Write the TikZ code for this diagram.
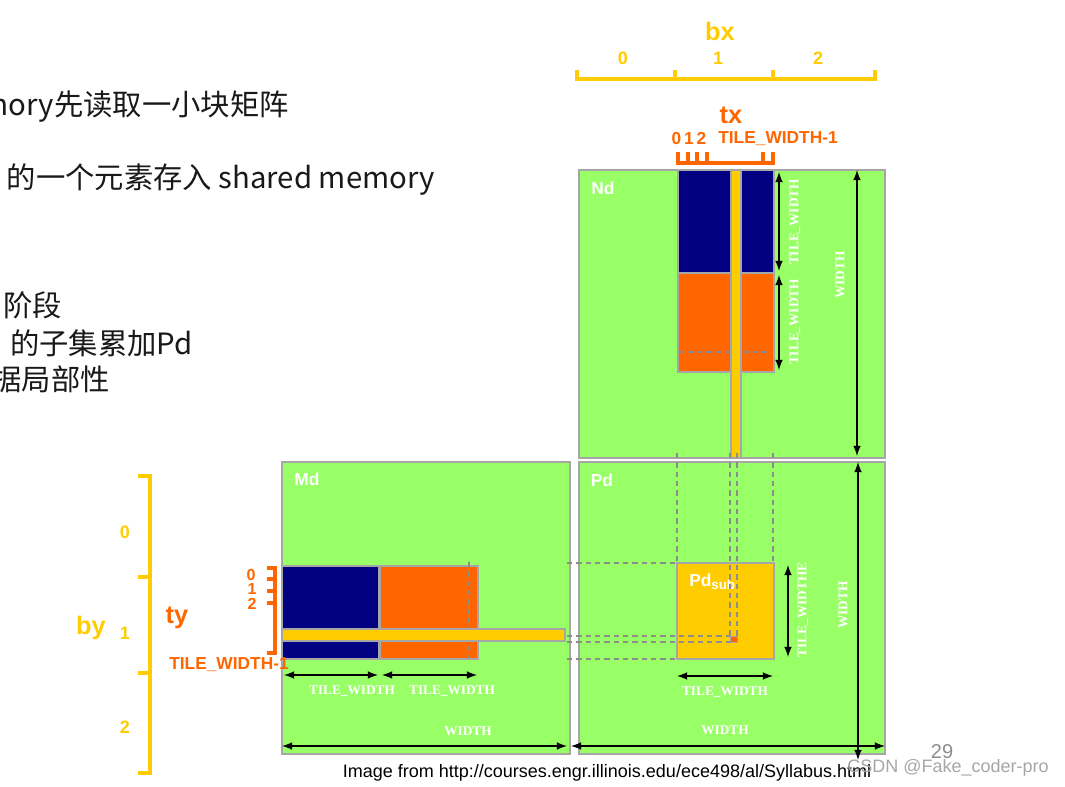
\documentclass[tikz,border=0pt]{standalone}
\usepackage{fontspec}
\setmainfont{Liberation Sans}
\newfontfamily\cjkfont{Noto Sans CJK SC}
\newfontfamily\dimfont{Liberation Serif}
\usetikzlibrary{arrows}

\definecolor{matgreen}{HTML}{99FF66}
\definecolor{tilenavy}{HTML}{000080}
\definecolor{tileorange}{HTML}{FF6600}
\definecolor{idxyellow}{HTML}{FFCC00}
\definecolor{edgegray}{HTML}{A6A6A6}

\begin{document}
\begin{tikzpicture}[
x=0.75pt,y=-0.75pt,
matrixbox/.style={
  fill=matgreen,
  draw=edgegray,
  line width=1.2pt
},
tilebox/.style={
  draw=edgegray,
  line width=1.2pt
},
idxstrip/.style={
  fill=idxyellow,
  draw=edgegray,
  line width=0.9pt
},
guideline/.style={
  draw=edgegray!85!black,
  line width=0.8pt,
  dash pattern=on 4pt off 3pt
},
dimline/.style={
  latex-latex,
  line width=1.6pt
},
dimlabel/.style={
  text=white,
  inner sep=0pt,
  font=\dimfont\bfseries\fontsize{10}{10}\selectfont
},
matname/.style={
  text=white,
  inner sep=0pt,
  font=\bfseries\fontsize{13}{13}\selectfont
},
blockbrace/.style={
  draw=idxyellow,
  line width=2.8pt
},
threadbrace/.style={
  draw=tileorange,
  line width=2.5pt
},
blocklabel/.style={
  text=idxyellow,
  inner sep=0pt,
  font=\bfseries\fontsize{13.5}{13.5}\selectfont
},
threadlabel/.style={
  text=tileorange,
  inner sep=0pt,
  font=\bfseries\fontsize{13}{13}\selectfont
},
bigname/.style={
  inner sep=0pt,
  font=\bfseries\fontsize{19}{19}\selectfont
},
cjknote/.style={
  anchor=east,
  inner sep=0pt,
  text=black!90,
  font=\cjkfont\fontsize{22}{22}\selectfont
}
]
\useasboundingbox (0,0) rectangle (1065,787);

\node[cjknote] (line1) at (289,107) {mory先读取一小块矩阵};
\node[cjknote] (line2) at (435,180) {的一个元素存入 shared memory};
\node[cjknote] (line3) at (62,305) {阶段};
\node[cjknote] (line4) at (193,343) {的子集累加Pd};
\node[cjknote] (line5) at (110,379) {据局部性};

% matrices
\draw[matrixbox] (579,170) rectangle (885,458);
\draw[matrixbox] (282,462) rectangle (570,754);
\draw[matrixbox] (579,462) rectangle (885,754);
\node[matname] (Nd) at (603,188) {Nd};
\node[matname] (Md) at (307,479) {Md};
\node[matname] (Pd) at (602,480) {Pd};

% Nd tiles
\draw[tilebox,fill=tilenavy] (678,170) rectangle (774,273);
\draw[tilebox,fill=tileorange] (678,273) rectangle (774,372);
\draw[guideline] (678,352) -- (772,352);
\draw[idxstrip] (731,170) rectangle (741,458);

% Md tiles
\draw[tilebox,fill=tilenavy] (282,566) rectangle (379,659);
\draw[tilebox,fill=tileorange] (380,566) rectangle (478,659);
\draw[guideline] (469,562) -- (469,659);
\draw[idxstrip] (282,629) rectangle (565,641);

% Pd sub-block
\draw[tilebox,fill=idxyellow] (677,563) rectangle (774,659);
\node[matname,anchor=west] (Pdsub) at (689,582) {Pd\raisebox{-0.35ex}{\fontsize{10}{10}\selectfont sub}};
\foreach \gx in {677,773}
  \draw[guideline] (\gx,453) -- (\gx,563);
\foreach \gx in {730,737}
  \draw[guideline] (\gx,453) -- (\gx,636);
\foreach \gy in {563,659}
  \draw[guideline] (567,\gy) -- (677,\gy);
\foreach \gy in {636,642}
  \draw[guideline] (567,\gy) -- (733,\gy);
\draw[draw=edgegray,fill=tileorange,line width=0.6pt] (730,636) rectangle (737,642);

% dimensions
\draw[dimline] (779,172) -- (779,271);
\draw[dimline] (779,275) -- (779,370);
\node[dimlabel,rotate=90] (ndtw1) at (795,222) {TILE\_WIDTH};
\node[dimlabel,rotate=90] (ndtw2) at (795,322) {TILE\_WIDTH};
\draw[dimline] (857,170) -- (857,456);
\node[dimlabel,rotate=90] (ndw) at (840,275) {WIDTH};

\draw[dimline] (858,462) -- (858,760);
\node[dimlabel,rotate=90] (pdw1) at (843,605) {WIDTH};
\draw[dimline] (571,746) -- (885,746);
\node[dimlabel] (pdw2) at (725,730) {WIDTH};
\draw[dimline] (788,565) -- (788,657);
\node[dimlabel,rotate=90] (pstw1) at (803,610) {TILE\_WIDTHE};
\draw[dimline] (677,676) -- (773,676);
\node[dimlabel] (pstw2) at (725,692) {TILE\_WIDTH};

\draw[dimline] (284,675) -- (378,675);
\draw[dimline] (382,675) -- (477,675);
\node[dimlabel] (mdtw1) at (352,691) {TILE\_WIDTH};
\node[dimlabel] (mdtw2) at (452,691) {TILE\_WIDTH};
\draw[dimline] (282,746) -- (567,746);
\node[dimlabel] (mdw) at (468,731) {WIDTH};

% block and thread indices
\draw[blockbrace] (577,70) -- (577,79) -- (875,79) -- (875,70);
\foreach \bx in {675,773}
  \draw[blockbrace] (\bx,70) -- (\bx,79);
\node[blocklabel] (bx0) at (623,58) {0};
\node[blocklabel] (bx1) at (718,58) {1};
\node[blocklabel] (bx2) at (818,58) {2};
\node[bigname,text=idxyellow] (bx) at (720,31) {bx};

\draw[threadbrace] (678,152) -- (678,163) -- (773,163) -- (773,152);
\foreach \tx in {688,697,707,763}
  \draw[threadbrace] (\tx,152) -- (\tx,163);
\node[threadlabel] (tx012) at (689,139) {0\,1\,2};
\node[threadlabel] (txlast) at (778,139) {TILE\_WIDTH-1};
\node[bigname,text=tileorange] (tx) at (731,115) {tx};

\draw[blockbrace] (138,476) -- (150,476) -- (150,773) -- (138,773);
\foreach \by in {577,673}
  \draw[blockbrace] (138,\by) -- (150,\by);
\node[blocklabel] (by0) at (125,532) {0};
\node[blocklabel] (by1) at (125,633) {1};
\node[blocklabel] (by2) at (125,727) {2};
\node[bigname,text=idxyellow] (by) at (91,628) {by};

\draw[threadbrace] (267,568) -- (275,568) -- (275,653) -- (267,653);
\foreach \ty in {579,591,603}
  \draw[threadbrace] (267,\ty) -- (275,\ty);
\node[threadlabel,font=\bfseries\fontsize{12}{12}\selectfont] (ty0) at (251,575) {0};
\node[threadlabel,font=\bfseries\fontsize{12}{12}\selectfont] (ty1) at (252,589) {1};
\node[threadlabel,font=\bfseries\fontsize{12}{12}\selectfont] (ty2) at (252,604) {2};
\node[bigname,text=tileorange] (ty) at (177,618) {ty};
\node[threadlabel] (tylast) at (229,665) {TILE\_WIDTH-1};

% footer
\node[inner sep=0pt,font=\fontsize{13.5}{13.5}\selectfont] (source) at (607,773)
  {Image from http://courses.engr.illinois.edu/ece498/al/Syllabus.html};
\node[inner sep=0pt,text=gray!90,font=\fontsize{15}{15}\selectfont] (page) at (942,752) {29};
\node[inner sep=0pt,text=gray!70,font=\fontsize{13.5}{13.5}\selectfont] (mark) at (948,768) {CSDN @Fake\_coder-pro};
\end{tikzpicture}
\end{document}
